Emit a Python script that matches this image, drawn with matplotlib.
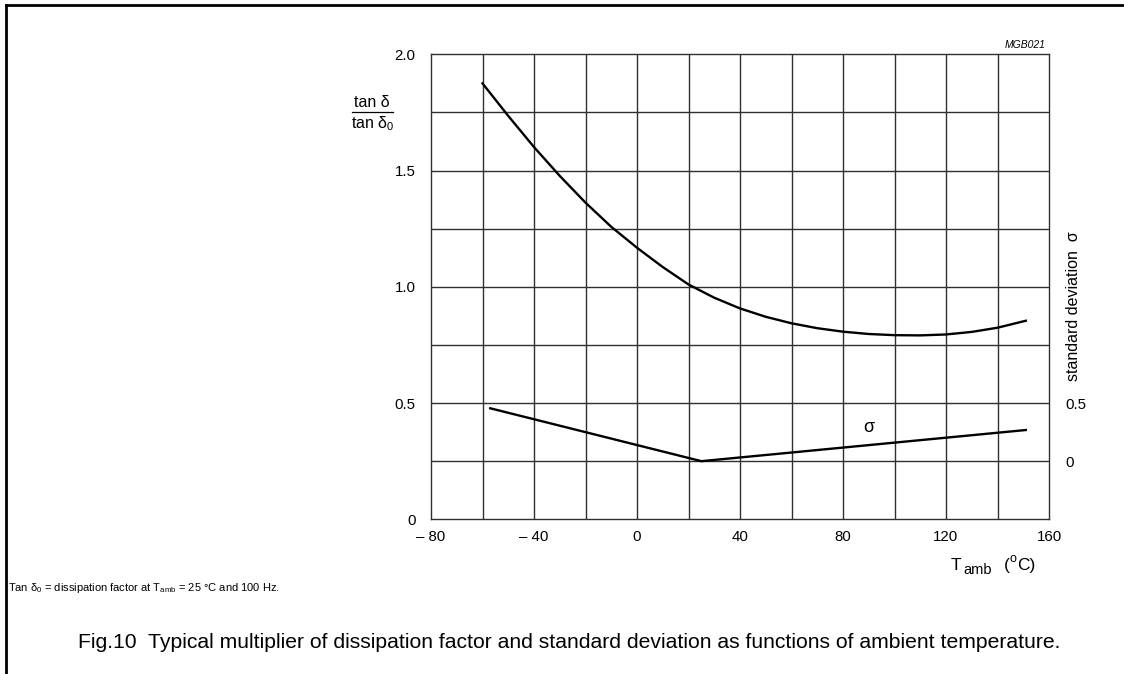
import matplotlib
matplotlib.use('Agg')
import matplotlib.pyplot as plt
from matplotlib.lines import Line2D

plt.rcParams['font.family'] = ['Liberation Sans', 'DejaVu Sans']
plt.rcParams['mathtext.fontset'] = 'custom'
plt.rcParams['mathtext.rm'] = 'Liberation Sans'
plt.rcParams['mathtext.it'] = 'Liberation Sans:italic'

# tan delta / tan delta0 versus ambient temperature
temp = [-60, -50, -40, -30, -20, -10, 0, 10, 20, 30, 40, 50, 60, 70, 80, 90,
        100, 110, 120, 130, 140, 151]
tan_ratio = [1.875, 1.735, 1.601, 1.477, 1.362, 1.258, 1.168, 1.085, 1.010,
             0.953, 0.907, 0.871, 0.843, 0.822, 0.807, 0.797, 0.792, 0.791,
             0.795, 0.806, 0.824, 0.854]

# standard deviation (right scale)
sig_temp = [-57, 25, 151]
sigma = [0.455, 0.0, 0.268]

x_ticks = [-80, -40, 0, 40, 80, 120, 160]
x_labels = ['\u2013 80', '\u2013 40', '0', '40', '80', '120', '160']
y_ticks = [0, 0.5, 1.0, 1.5, 2.0]
y_labels = ['0', '0.5', '1.0', '1.5', '2.0']
sig_ticks = [0, 0.5]
sig_labels = ['0', '0.5']

W, H = 1124, 674
fig = plt.figure(figsize=(W / 100, H / 100), dpi=100)
ax = fig.add_axes([431 / W, 1 - 519.3 / H, 618 / W, 465 / H])

grid_c = '#303030'
for x in range(-60, 160, 20):
    ax.axvline(x, color=grid_c, lw=1.0, zorder=1)
for y in [0.25, 0.5, 0.75, 1.0, 1.25, 1.5, 1.75]:
    ax.axhline(y, color=grid_c, lw=1.0, zorder=1)

ax.plot(temp, tan_ratio, color='black', lw=1.7, zorder=3)

ax.set_xlim(-80, 160)
ax.set_ylim(0, 2.0)
ax.set_xticks(x_ticks)
ax.set_xticklabels(x_labels)
ax.set_yticks(y_ticks)
ax.set_yticklabels(y_labels)
ax.tick_params(length=0, labelsize=10.8)
ax.tick_params(axis='x', pad=8)
ax.tick_params(axis='y', pad=11)
for s in ax.spines.values():
    s.set_color(grid_c)
    s.set_linewidth(1.0)

ax2 = ax.twinx()
ax2.set_ylim(-0.5, 3.5)
ax2.plot(sig_temp, sigma, color='black', lw=1.7, zorder=3)
ax2.set_yticks(sig_ticks)
ax2.set_yticklabels(sig_labels)
ax2.tick_params(length=0, labelsize=10.8, pad=12)
for s in ax2.spines.values():
    s.set_visible(False)
ax2.text(90, 0.29, '\u03c3', fontsize=13, ha='center', va='center')

# left axis label: tan d / tan d0 as a stacked fraction
fig.text(372 / W, 1 - 107 / H, 'tan \u03b4', fontsize=11.5, ha='center', va='baseline')
fig.add_artist(Line2D([352 / W, 393 / W], [1 - 112 / H, 1 - 112 / H], color='black',
                      lw=0.9, transform=fig.transFigure))
fig.text(373 / W, 1 - 128 / H, 'tan \u03b4$_\\mathrm{0}$', fontsize=11.5,
         ha='center', va='baseline')

fig.text(1073 / W, 1 - 306 / H, 'standard deviation  \u03c3', rotation=90,
         fontsize=11.5, ha='center', va='center')

# x axis label, T_amb (oC), set piece by piece
fig.text(951 / W, 1 - 570 / H, 'T', fontsize=12.5, ha='left', va='baseline')
fig.text(963 / W, 1 - 574 / H, 'amb', fontsize=10.5, ha='left', va='baseline')
fig.text(1004 / W, 1 - 570 / H, '(', fontsize=12.5, ha='left', va='baseline')
fig.text(1010 / W, 1 - 562 / H, 'o', fontsize=9, ha='left', va='baseline')
fig.text(1017 / W, 1 - 570 / H, 'C)', fontsize=12.5, ha='left', va='baseline')

fig.text(1046 / W, 1 - 48 / H, 'MGB021', fontsize=7.5, style='italic',
         ha='right', va='baseline')

# notes under the chart
fig.text(8 / W, 1 - 591 / H,
         'Tan \u03b4$_\\mathrm{0}$ = dissipation factor at T$_{\\mathrm{amb}}$ = 25 \u00b0C and 100 Hz.',
         fontsize=8, ha='left', va='baseline')
fig.text(78 / W, 1 - 648 / H,
         'Fig.10  Typical multiplier of dissipation factor and standard deviation '
         'as functions of ambient temperature.',
         fontsize=15.2, ha='left', va='baseline')

# page frame
fig.add_artist(Line2D([6 / W, 6 / W], [0, 1 - 5 / H], color='black', lw=2,
                      transform=fig.transFigure))
fig.add_artist(Line2D([6 / W, 1], [1 - 5 / H, 1 - 5 / H], color='black', lw=2,
                      transform=fig.transFigure))

fig.savefig('out.png', dpi=100)
